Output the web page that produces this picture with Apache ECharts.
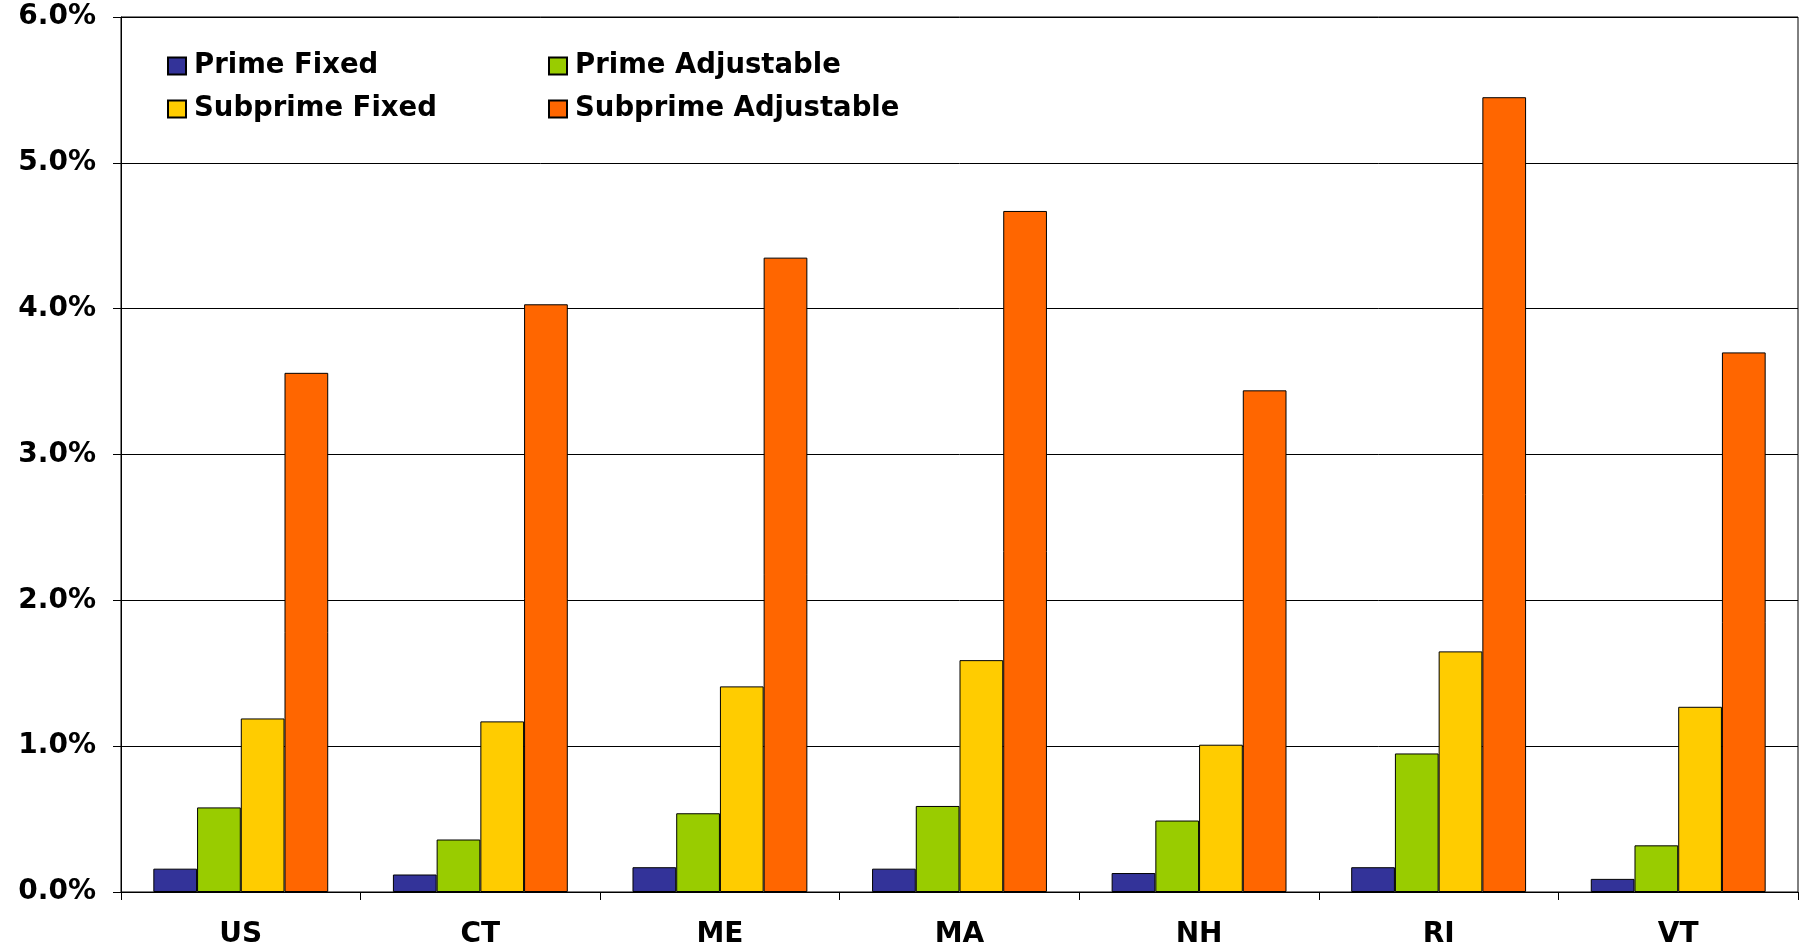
<!DOCTYPE html>
<html>
<head>
<meta charset="utf-8">
<script src="https://cdn.jsdelivr.net/npm/echarts@6/dist/echarts.min.js"></script>
<style>html,body{margin:0;padding:0;background:#fff;}#c{width:1801px;height:947px;}</style>
</head>
<body>
<div id="c"></div>
<script>
var categories = ['US', 'CT', 'ME', 'MA', 'NH', 'RI', 'VT'];
var primeFixed = [0.16, 0.12, 0.17, 0.16, 0.13, 0.17, 0.09];
var primeAdjustable = [0.58, 0.36, 0.54, 0.59, 0.49, 0.95, 0.32];
var subprimeFixed = [1.19, 1.17, 1.41, 1.59, 1.01, 1.65, 1.27];
var subprimeAdjustable = [3.56, 4.03, 4.35, 4.67, 3.44, 5.45, 3.70];
var yTicks = [0, 1, 2, 3, 4, 5, 6];

var FONT = 'DejaVu Sans';
var chart = echarts.init(document.getElementById('c'));
function bar(name, data, color) {
  return {
    name: name, type: 'bar', data: data,
    barGap: '0%', barCategoryGap: '27%',
    itemStyle: { color: color, borderColor: '#000', borderWidth: 1 }
  };
}
var legendText = { fontFamily: FONT, fontWeight: 'bold', fontSize: 27.5, color: '#000', lineHeight: 30 };
chart.setOption({
  animation: false,
  backgroundColor: '#fff',
  grid: { left: 121, right: 3, top: 17, bottom: 55, show: true, borderColor: '#000', borderWidth: 1,
    containLabel: false, outerBoundsMode: 'none' },
  legend: [
    { orient: 'vertical', left: 167, top: 51, padding: 0, itemGap: 13, itemWidth: 18, itemHeight: 17, icon: 'rect',
      data: ['Prime Fixed', 'Subprime Fixed'], textStyle: Object.assign({ padding: [0, 0, 0, 3] }, legendText), selectedMode: false },
    { orient: 'vertical', left: 548, top: 51, padding: 0, itemGap: 13, itemWidth: 18, itemHeight: 17, icon: 'rect',
      data: ['Prime Adjustable', 'Subprime Adjustable'], textStyle: Object.assign({ padding: [0, 0, 0, 3] }, legendText), selectedMode: false }
  ],
  xAxis: {
    type: 'category', data: categories,
    axisLine: { lineStyle: { color: '#000', width: 1 } },
    axisTick: { show: true, length: 8, interval: 0, alignWithLabel: false, lineStyle: { color: '#000' } },
    axisLabel: { margin: 29, fontFamily: FONT, fontWeight: 'bold', fontSize: 28, color: '#000', interval: 0 }
  },
  yAxis: {
    type: 'value', min: yTicks[0], max: yTicks[yTicks.length - 1], interval: 1,
    axisLine: { show: true, lineStyle: { color: '#000', width: 1 } },
    axisTick: { show: true, length: 8, lineStyle: { color: '#000' } },
    splitLine: { show: true, lineStyle: { color: '#000', width: 1 } },
    axisLabel: { margin: 25, fontFamily: FONT, fontWeight: 'bold', fontSize: 28, color: '#000',
      formatter: function (v) { return v.toFixed(1) + '%'; } }
  },
  series: [
    bar('Prime Fixed', primeFixed, '#333399'),
    bar('Prime Adjustable', primeAdjustable, '#99CC00'),
    bar('Subprime Fixed', subprimeFixed, '#FFCC00'),
    bar('Subprime Adjustable', subprimeAdjustable, '#FF6600')
  ]
});
</script>
</body>
</html>
